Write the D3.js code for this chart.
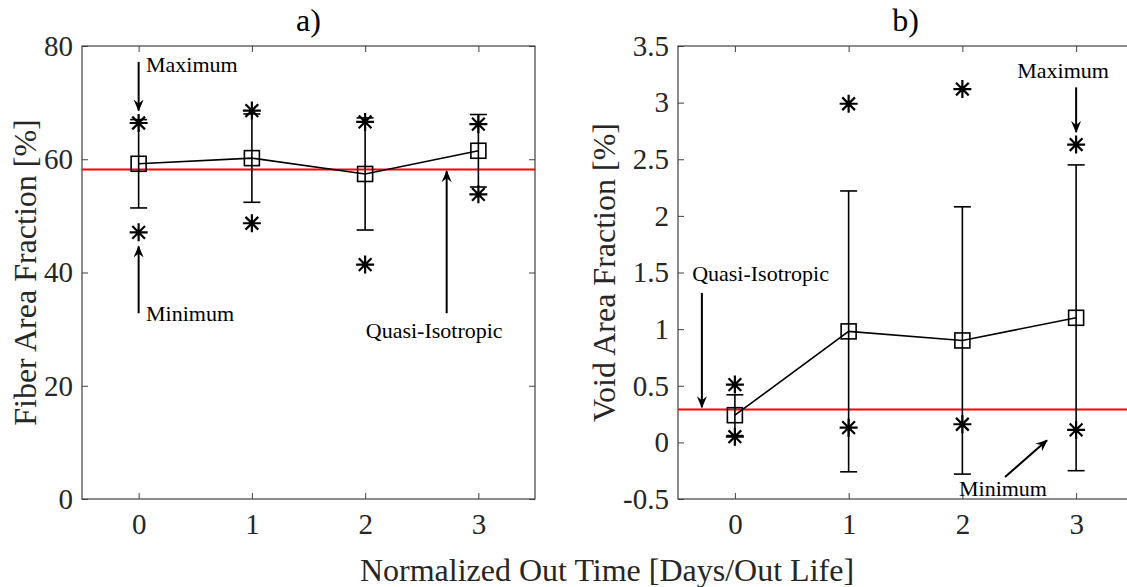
<!DOCTYPE html>
<html>
<head>
<meta charset="utf-8">
<script src="https://cdn.jsdelivr.net/npm/d3@7"></script>
<style>
  body { margin: 0; background: #fff; }
  svg { display: block; font-family: "Liberation Serif", "Times New Roman", serif; }
</style>
</head>
<body>
<div id="chart"></div>
<script>
// Data
const days = [0, 1, 2, 3];

const fiberMean = [59.2, 60.2, 57.4, 61.5];
const fiberStd = [7.8, 7.8, 9.9, 6.4];
const fiberMax = [66.4, 68.6, 66.6, 66.2];
const fiberMin = [47.1, 48.7, 41.4, 53.8];
const fiberQI = 58.2;
const fiberTicks = [0, 20, 40, 60, 80];

const voidMean = [0.24, 0.98, 0.90, 1.10];
const voidStd = [0.18, 1.24, 1.18, 1.35];
const voidMax = [0.51, 2.99, 3.12, 2.63];
const voidMin = [0.05, 0.13, 0.16, 0.11];
const voidQI = 0.29;
const voidTicks = [-0.5, 0, 0.5, 1, 1.5, 2, 2.5, 3, 3.5];

// annotation text + arrow (data coordinates)
const fiberNotes = [
  { text: "Maximum", tx: 0.065, ty: 76.8, anchor: "start", ax1: 0, ay1: 77.2, ax2: 0, ay2: 68.6 },
  { text: "Minimum", tx: 0.065, ty: 32.8, anchor: "start", ax1: 0, ay1: 32.8, ax2: 0, ay2: 44.6 },
  { text: "Quasi-Isotropic", tx: 2.61, ty: 29.8, anchor: "middle", ax1: 2.72, ay1: 32.8, ax2: 2.72, ay2: 57.9 }
];
const voidNotes = [
  { text: "Quasi-Isotropic", tx: 0.226, ty: 1.49, anchor: "middle", ax1: -0.29, ay1: 1.32, ax2: -0.29, ay2: 0.31 },
  { text: "Maximum", tx: 2.885, ty: 3.285, anchor: "middle", ax1: 3, ay1: 3.135, ax2: 3, ay2: 2.74 },
  { text: "Minimum", tx: 2.357, ty: -0.406, anchor: "middle", ax1: 2.375, ay1: -0.306, ax2: 2.744, ay2: 0.018 }
];

const W = 1127, H = 587;
const ink = "#262626";
const axisColor = "#404040";

const svg = d3.select("#chart").append("svg")
  .attr("width", W)
  .attr("height", H);

svg.append("defs").append("marker")
  .attr("id", "head")
  .attr("viewBox", "0 0 12 12")
  .attr("refX", 11)
  .attr("refY", 6)
  .attr("markerWidth", 12)
  .attr("markerHeight", 12)
  .attr("markerUnits", "userSpaceOnUse")
  .attr("orient", "auto")
  .append("path")
  .attr("d", "M0,1 L12,6 L0,11 L4,6 Z")
  .attr("fill", "#000");

function styleAxis(s) {
  s.attr("font-family", null).attr("font-size", null);
  s.select(".domain").remove();
  s.selectAll("line").attr("stroke", axisColor);
  s.selectAll("text").attr("fill", ink).style("font-size", "29px");
}

function drawPanel(opt) {
  const x = d3.scaleLinear().domain([-0.5, 3.5]).range([opt.left, opt.right]);
  const y = d3.scaleLinear().domain(opt.yDomain).range([499, 46]);
  const g = svg.append("g");

  // inward ticks on all four sides
  g.append("g")
    .attr("transform", "translate(0,499)")
    .call(d3.axisBottom(x).tickValues(days).tickSizeInner(-6).tickSizeOuter(0).tickPadding(14).tickFormat(d3.format("d")))
    .call(styleAxis);

  g.append("g")
    .attr("transform", "translate(0,46)")
    .call(d3.axisTop(x).tickValues(days).tickSizeInner(-6).tickSizeOuter(0).tickFormat(""))
    .call(styleAxis);

  g.append("g")
    .attr("transform", `translate(${opt.left},0)`)
    .call(d3.axisLeft(y).tickValues(opt.ticks).tickSizeInner(-6).tickSizeOuter(0).tickPadding(9).tickFormat(d => String(d)))
    .call(styleAxis);

  g.append("g")
    .attr("transform", `translate(${opt.right},0)`)
    .call(d3.axisRight(y).tickValues(opt.ticks).tickSizeInner(-6).tickSizeOuter(0).tickFormat(""))
    .call(styleAxis);

  g.append("rect")
    .attr("x", opt.left)
    .attr("y", 46)
    .attr("width", opt.right - opt.left)
    .attr("height", 499 - 46)
    .attr("fill", "none")
    .attr("stroke", axisColor)
    .attr("stroke-width", 1.2);

  // quasi-isotropic reference
  g.append("line")
    .attr("x1", opt.left).attr("x2", opt.right)
    .attr("y1", y(opt.qi)).attr("y2", y(opt.qi))
    .attr("stroke", "#ff0000")
    .attr("stroke-width", 2);

  // error bars
  const capW = 8.5;
  days.forEach((d, i) => {
    const hi = opt.mean[i] + opt.std[i];
    const lo = opt.mean[i] - opt.std[i];
    g.append("line")
      .attr("x1", x(d)).attr("x2", x(d))
      .attr("y1", y(hi)).attr("y2", y(lo))
      .attr("stroke", "#000").attr("stroke-width", 1.6);
    [hi, lo].forEach(v => {
      g.append("line")
        .attr("x1", x(d) - capW).attr("x2", x(d) + capW)
        .attr("y1", y(v)).attr("y2", y(v))
        .attr("stroke", "#000").attr("stroke-width", 1.6);
    });
  });

  // mean line + square markers
  g.append("path")
    .datum(days)
    .attr("d", d3.line().x(d => x(d)).y((d, i) => y(opt.mean[i])))
    .attr("fill", "none")
    .attr("stroke", "#000")
    .attr("stroke-width", 1.6);

  g.selectAll(".sq")
    .data(days)
    .enter()
    .append("rect")
    .attr("x", d => x(d) - 7.5)
    .attr("y", (d, i) => y(opt.mean[i]) - 7.5)
    .attr("width", 15)
    .attr("height", 15)
    .attr("fill", "none")
    .attr("stroke", "#000")
    .attr("stroke-width", 1.6);

  // min / max asterisks
  const star = (cx, cy) => {
    const r = 9, k = r * 0.7071;
    const p = `M${cx - r},${cy}L${cx + r},${cy}M${cx},${cy - r}L${cx},${cy + r}` +
      `M${cx - k},${cy - k}L${cx + k},${cy + k}M${cx - k},${cy + k}L${cx + k},${cy - k}`;
    g.append("path").attr("d", p).attr("stroke", "#000").attr("stroke-width", 2.2).attr("fill", "none");
  };
  days.forEach((d, i) => {
    star(x(d), y(opt.max[i]));
    star(x(d), y(opt.min[i]));
  });

  // annotations
  opt.notes.forEach(n => {
    g.append("line")
      .attr("x1", x(n.ax1)).attr("y1", y(n.ay1))
      .attr("x2", x(n.ax2)).attr("y2", y(n.ay2))
      .attr("stroke", "#000")
      .attr("stroke-width", 2)
      .attr("marker-end", "url(#head)");
    g.append("text")
      .attr("x", x(n.tx))
      .attr("y", y(n.ty))
      .attr("dy", "0.35em")
      .attr("text-anchor", n.anchor)
      .attr("fill", "#000")
      .style("font-size", "22px")
      .text(n.text);
  });

  // title
  g.append("text")
    .attr("x", (opt.left + opt.right) / 2)
    .attr("y", 31)
    .attr("text-anchor", "middle")
    .attr("fill", "#000")
    .style("font-size", "32px")
    .text(opt.title);

  // y label
  g.append("text")
    .attr("transform", `translate(${opt.labelX},${(46 + 499) / 2}) rotate(-90)`)
    .attr("text-anchor", "middle")
    .attr("fill", ink)
    .style("font-size", "32px")
    .text(opt.ylabel);
}

drawPanel({
  left: 82, right: 535, yDomain: [0, 80], ticks: fiberTicks,
  mean: fiberMean, std: fiberStd, max: fiberMax, min: fiberMin, qi: fiberQI,
  notes: fiberNotes, title: "a)", ylabel: "Fiber Area Fraction [%]", labelX: 36
});

drawPanel({
  left: 678, right: 1133, yDomain: [-0.5, 3.5], ticks: voidTicks,
  mean: voidMean, std: voidStd, max: voidMax, min: voidMin, qi: voidQI,
  notes: voidNotes, title: "b)", ylabel: "Void Area Fraction [%]", labelX: 615
});

svg.append("text")
  .attr("x", 607)
  .attr("y", 581)
  .attr("text-anchor", "middle")
  .attr("fill", ink)
  .style("font-size", "32px")
  .text("Normalized Out Time [Days/Out Life]");
</script>
</body>
</html>
